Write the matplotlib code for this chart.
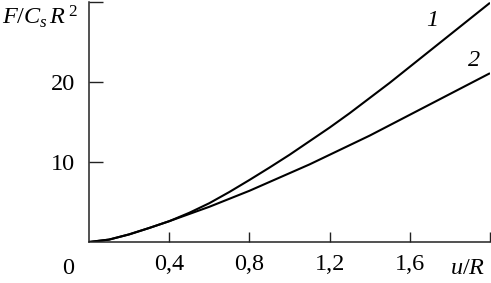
import matplotlib
matplotlib.use("Agg")
import matplotlib.pyplot as plt

plt.rcParams['font.family'] = ['Liberation Serif', 'DejaVu Serif']
plt.rcParams['mathtext.fontset'] = 'custom'
plt.rcParams['mathtext.rm'] = 'Liberation Serif'
plt.rcParams['mathtext.it'] = 'Liberation Serif:italic'

x_vals = [0.0, 0.1, 0.2, 0.3, 0.4, 0.5, 0.6, 0.7, 0.8, 0.9, 1.0,
          1.1, 1.2, 1.3, 1.4, 1.5, 1.6, 1.7, 1.8, 1.9, 2.0]
curve1 = [0.0, 0.3, 0.95, 1.75, 2.6, 3.65, 4.85, 6.25, 7.75, 9.3, 10.9,
          12.6, 14.3, 16.1, 18.0, 19.9, 21.9, 23.9, 25.9, 27.9, 29.9]
curve2 = [0.0, 0.3, 0.95, 1.75, 2.6, 3.5, 4.4, 5.4, 6.4, 7.5, 8.6,
          9.7, 10.9, 12.1, 13.3, 14.6, 15.9, 17.2, 18.5, 19.8, 21.1]
x_ticks = [0.4, 0.8, 1.2, 1.6, 2.0]
x_tick_labels = ['0,4', '0,8', '1,2', '1,6', '']
y_ticks = [10, 20, 30]
y_tick_labels = ['10', '20', '']

W, H = 491, 283
fig = plt.figure(figsize=(W / 100, H / 100), dpi=100)
ax = fig.add_axes([89 / W, (H - 242) / H, (490 - 89) / W, (242 - 2) / H])
ax.plot(x_vals, curve1, color='black', lw=1.5, solid_capstyle='butt', solid_joinstyle='round')
ax.plot(x_vals, curve2, color='black', lw=1.5, solid_capstyle='butt', solid_joinstyle='round')
ax.set_xlim(0, 2.0)
ax.set_ylim(0, 30)
for s in ['top', 'right']:
    ax.spines[s].set_visible(False)
for s in ['left', 'bottom']:
    ax.spines[s].set_linewidth(1.1)
    ax.spines[s].set_color('#222222')
ax.set_xticks(x_ticks)
ax.set_xticklabels(x_tick_labels)
ax.set_yticks(y_ticks)
ax.set_yticklabels(y_tick_labels)
ax.tick_params(axis='x', direction='in', length=7, width=1.0, colors='#222222', labelsize=17.5, pad=9, labelcolor='black')
ax.tick_params(axis='y', direction='in', length=10, width=1.0, colors='#222222', labelsize=17.5, pad=10, labelcolor='black')

fig.text(68 / W, (H - 268) / H, '0', fontsize=17.5, ha='center', va='center')
fig.text(468 / W, (H - 268) / H, '$u/R$', fontsize=17.5, ha='center', va='center')
fig.text(2 / W, (H - 24) / H, '$F/C_{s}\\,R^{\\,2}$', fontsize=17.5, ha='left', va='baseline')
fig.text(432 / W, (H - 20) / H, '1', fontsize=17.5, style='italic', ha='center', va='center')
fig.text(474 / W, (H - 60) / H, '2', fontsize=17.5, style='italic', ha='center', va='center')

fig.savefig('out.png', dpi=100)
